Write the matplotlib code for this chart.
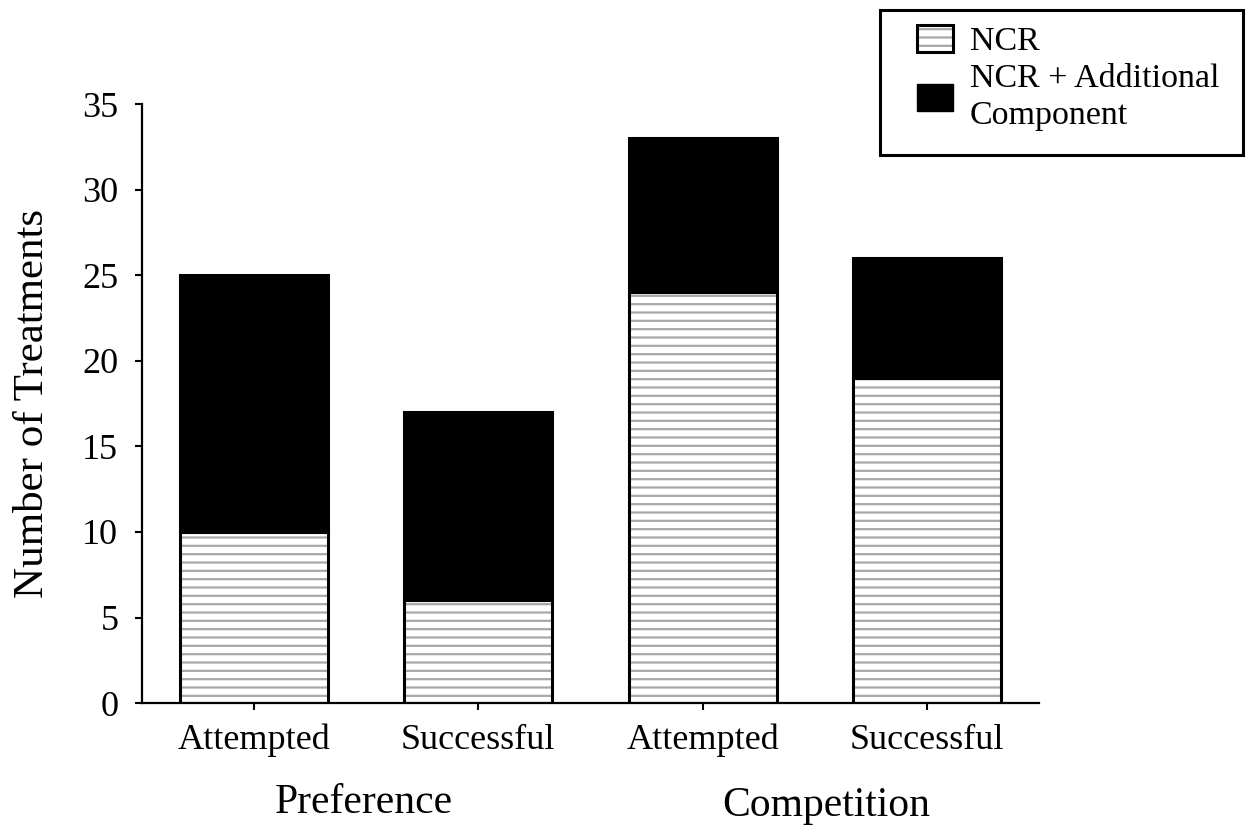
import matplotlib

matplotlib.use("Agg")
import matplotlib.pyplot as plt
from matplotlib.patches import Patch, Rectangle

conditions = ["Attempted", "Successful", "Attempted", "Successful"]
groups = ["Preference", "Competition"]
ncr = [10, 6, 24, 19]
additional = [15, 11, 9, 7]

plt.rcParams["font.family"] = ["Liberation Serif", "DejaVu Serif"]
plt.rcParams["hatch.linewidth"] = 1.6

W, H = 1255, 834
fig = plt.figure(figsize=(W / 100, H / 100), dpi=100)
ax = fig.add_axes([0.1131, 0.157, 0.7147, 0.718])

x = list(range(len(conditions)))
width = 0.66
hatch_gray = "#a8a8a8"

# hatched NCR part: gray hatch, black outline drawn on top
ax.bar(x, ncr, width, color="white", edgecolor=hatch_gray, hatch="--", linewidth=0)
ax.bar(x, ncr, width, fill=False, edgecolor="black", linewidth=2.2)
ax.bar(x, additional, width, bottom=ncr, color="black", edgecolor="black", linewidth=2.2)

ax.set_xlim(-0.5, 3.5)
ax.set_ylim(0, 35)
ax.set_yticks(range(0, 36, 5))
ax.set_xticks(x)
ax.set_xticklabels(conditions)
ax.tick_params(axis="both", labelsize=26, width=1.5, length=5, direction="out")
ax.tick_params(axis="y", pad=12)
ax.tick_params(axis="x", pad=10)
ax.set_ylabel("Number of Treatments", fontsize=31, labelpad=22)

for side in ["top", "right"]:
    ax.spines[side].set_visible(False)
for side in ["left", "bottom"]:
    ax.spines[side].set_linewidth(1.6)

trans = ax.get_xaxis_transform()
ax.text(0.49, -0.167, groups[0], transform=trans, ha="center", va="center", fontsize=30)
ax.text(2.55, -0.172, groups[1], transform=trans, ha="center", va="center", fontsize=30)

# legend: content without frame, box drawn separately
ncr_handle = (
    Patch(facecolor="white", edgecolor=hatch_gray, hatch="--", linewidth=0),
    Patch(fill=False, edgecolor="black", linewidth=2.2),
)
add_handle = Patch(facecolor="black", edgecolor="black")
leg = fig.legend(
    [ncr_handle, add_handle],
    ["NCR", "NCR + Additional\nComponent"],
    loc="upper left",
    bbox_to_anchor=(917 / W, 1 - 25 / H),
    fontsize=24.5,
    frameon=False,
    borderpad=0,
    handlelength=1.06,
    handleheight=0.86,
    handletextpad=0.5,
    labelspacing=0.18,
    borderaxespad=0,
)
for t in leg.get_texts():
    t.set_linespacing(1.27)
fig.patches.append(
    Rectangle(
        (880 / W, 1 - 155 / H), 363 / W, 145 / H,
        transform=fig.transFigure, fill=False, edgecolor="black", linewidth=2.2,
    )
)

fig.savefig("out.png", dpi=100)
